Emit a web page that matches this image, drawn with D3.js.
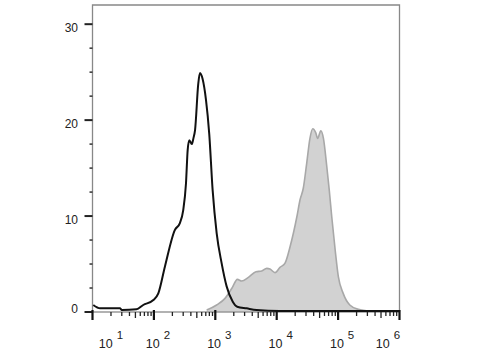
<!DOCTYPE html>
<html><head><meta charset="utf-8">
<script src="https://cdn.jsdelivr.net/npm/d3@7"></script>
<style>body{margin:0;background:#fff}svg{display:block}text{font-family:"Liberation Sans",Arial,sans-serif;fill:#222}</style>
</head><body><svg id="c" width="480" height="360"></svg>
<script>
// isotype control (black line): fluorescence intensity, events
const isoX = [10.3,13.3,28,30,52,67,98,118,151,219,265,300,333,355,377,414,440,468,528,563,620,705,796,905,1052,1265,1530,1925,2280,3240,4700,11200,1000000];
const isoY = [0.73,0.38,0.38,0.21,0.28,0.73,1.25,1.94,4.72,8.54,9.27,10.6,13.4,16.9,17.9,17.5,18.1,18.96,23.8,24.9,24.3,22.1,18.6,12.7,8.23,5.12,2.67,1.07,0.55,0.38,0.21,0.1,0.1];
// stained sample (grey filled)
const stX = [724,1052,1440,1860,2290,2690,3460,4600,5700,6880,7780,9380,11300,13600,16500,21300,24000,27100,30800,34800,38600,43200,46500,52300,57700,65100,71800,78800,89600,100900,121000,155000,213000,332000];
const stY = [0.2,0.73,1.42,2.47,3.4,3.23,3.61,4.2,4.27,4.55,4.48,4.1,4.65,5.07,6.8,9.93,11.7,12.9,15.5,18.1,19.1,18.7,18.1,18.9,18.1,15.3,12.7,9.93,6.46,3.68,1.94,0.73,0.28,0.1];
const yTicks = [0,10,20,30];
const xExps = [1,2,3,4,5,6];

const svg = d3.select("#c");
const x = d3.scaleLog().domain([10,1e6]).range([92.5,399.5]);
const y = d3.scaleLinear().domain([0,32]).range([312,5]);

const iso = isoX.map((v,i)=>[v,isoY[i]]);
const st = stX.map((v,i)=>[v,stY[i]]);

svg.append("path").datum(st)
  .attr("d", d3.area().x(d=>x(d[0])).y0(y(0)).y1(d=>y(d[1])).curve(d3.curveMonotoneX))
  .attr("fill","#d2d2d2");
svg.append("path").datum(st)
  .attr("d", d3.line().x(d=>x(d[0])).y(d=>y(d[1])).curve(d3.curveMonotoneX))
  .attr("fill","none").attr("stroke","#a8a8a8").attr("stroke-width",1.6);

// frame
svg.append("path").attr("d",`M${x.range()[0]},${y(0)}V${y.range()[1]}H${x.range()[1]}V${y(0)}`)
  .attr("fill","none").attr("stroke","#888").attr("stroke-width",1.3);
svg.append("line").attr("x1",x.range()[0]).attr("x2",x.range()[1]).attr("y1",y(0)).attr("y2",y(0))
  .attr("stroke","#999").attr("stroke-width",1.3);

svg.append("path").datum(iso)
  .attr("d", d3.line().x(d=>x(d[0])).y(d=>y(d[1])).curve(d3.curveMonotoneX))
  .attr("fill","none").attr("stroke","#111").attr("stroke-width",2);

// y axis ticks
const yMinor = d3.range(0,32,2.5).filter(v=>!yTicks.includes(v));
svg.selectAll(".ym").data(yMinor).join("line")
  .attr("x1",89.5).attr("x2",92.5).attr("y1",d=>y(d)).attr("y2",d=>y(d))
  .attr("stroke","#333").attr("stroke-width",1.5);
svg.selectAll(".yM").data(yTicks).join("line")
  .attr("x1",84.5).attr("x2",92.5).attr("y1",d=>y(d)).attr("y2",d=>y(d))
  .attr("stroke","#222").attr("stroke-width",2);
svg.selectAll(".yl").data(yTicks).join("text")
  .attr("x",78).attr("y",d=>y(d)+(d===0?1:8)).attr("text-anchor","end")
  .attr("font-size",12).text(d=>d);

// x axis ticks
const xMinor = [];
xExps.slice(0,-1).forEach(e=>{ for(let k=2;k<=9;k++) xMinor.push(k*Math.pow(10,e)); });
svg.selectAll(".xm").data(xMinor).join("line")
  .attr("x1",d=>x(d)).attr("x2",d=>x(d)).attr("y1",312).attr("y2",d=>{const k=Math.round(d/Math.pow(10,Math.floor(Math.log10(d)+1e-9)));return k===5?318:316;})
  .attr("stroke","#222").attr("stroke-width",1.3);
svg.selectAll(".xM").data(xExps).join("line")
  .attr("x1",d=>x(Math.pow(10,d))).attr("x2",d=>x(Math.pow(10,d))).attr("y1",310).attr("y2",320)
  .attr("stroke","#111").attr("stroke-width",2.2);
const xl = svg.selectAll(".xl").data(xExps).join("text")
  .attr("x",d=>Math.max(111,Math.min(388,x(Math.pow(10,d))+4))).attr("y",348)
  .attr("text-anchor","middle").attr("font-size",12.5);
xl.append("tspan").text("10");
xl.append("tspan").attr("dy",-9).attr("dx",4).attr("font-size",11.5).text(d=>d);
</script></body></html>
